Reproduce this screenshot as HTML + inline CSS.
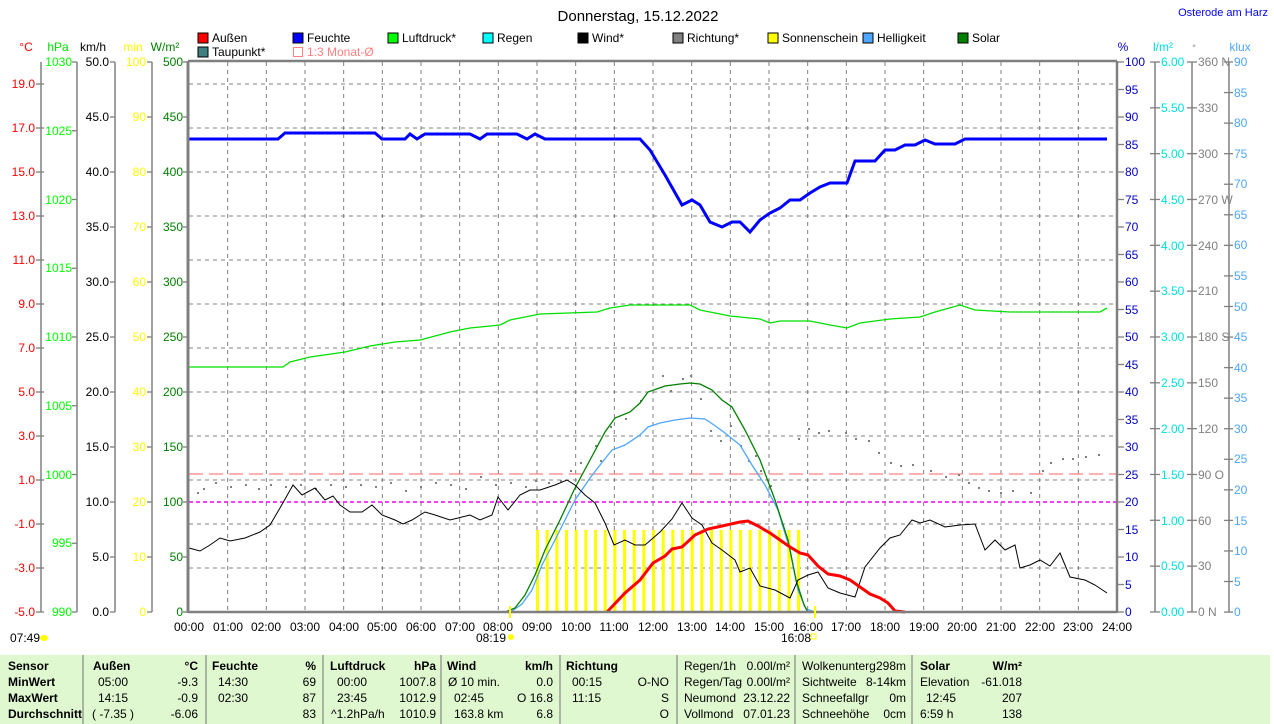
<!DOCTYPE html>
<html><head><meta charset="utf-8"><style>
body{margin:0;background:#fff;width:1274px;height:724px;overflow:hidden;font-family:"Liberation Sans",sans-serif}
svg{position:absolute;left:0;top:0}
text{font-family:"Liberation Sans",sans-serif;font-size:12px}
.tb{position:absolute;left:0;top:655px;width:1270px;height:69px;background:#e0f8d0}
</style></head><body>
<div class="tb"></div>
<svg width="1274" height="724" viewBox="0 0 1274 724" id="s">
<g id="grid" stroke="#808080" stroke-dasharray="4,4" stroke-width="1"></g>
<line x1="189" y1="474" x2="1117" y2="474" stroke="#ff8080" stroke-dasharray="14,6" stroke-width="1.2"/>
<line x1="189" y1="502" x2="1117" y2="502" stroke="#ff00ff" stroke-dasharray="4,3" stroke-width="1.5"/>
<g id="bars" fill="#ffff00"></g>
<g id="dots" fill="#808080"></g>
<polyline fill="none" stroke="#4da6ff" stroke-width="1.3" points="500,612 512,611 522,604 532,590 542,565 555,540 575,500 590,478 600,465 612,450 625,445 640,435 648,427 660,423 675,420 690,418 705,419 714,425 725,433 740,445 752,465 765,485 778,510 790,550 798,590 806,609 815,612 832,612"/>
<polyline fill="none" stroke="#008000" stroke-width="1.3" points="505,612 515,608 525,595 535,575 545,550 560,520 575,488 590,460 605,432 615,418 630,412 640,403 648,392 665,386 680,384 690,383 700,384 712,390 722,400 732,407 745,430 760,460 775,500 788,540 796,580 804,605 808,612"/>
<polyline fill="none" stroke="#0000ff" stroke-width="3" points="189,139 278,139 285,133 375,133 382,139 405,139 410,134 417,139 425,134 470,134 480,139 487,134 517,134 527,139 535,134 545,139 640,139 650,150 665,175 682,205 692,200 700,205 710,222 722,227 732,222 740,222 750,232 760,220 770,213 780,208 790,200 800,200 810,193 820,187 830,183 847,183 855,161 875,161 885,150 895,150 905,145 915,145 925,140 935,144 955,144 965,139 1107,139"/>
<polyline fill="none" stroke="#00e000" stroke-width="1.3" points="189,367 283,367 290,362 310,357 345,352 370,346 395,342 420,340 435,336 450,332 470,328 500,325 510,320 540,314 597,312 610,308 630,305 690,305 700,310 730,316 760,319 770,323 780,321 810,321 830,325 847,328 860,323 890,319 920,317 935,312 960,305 975,310 1010,312 1100,312 1107,308"/>
<polyline fill="none" stroke="#000" stroke-width="1" points="189,548 200,551 210,545 220,538 230,541 245,538 260,532 270,525 280,508 293,485 302,495 315,488 325,500 333,496 340,505 350,512 362,512 372,505 382,515 395,520 403,524 412,520 425,512 435,515 450,520 470,515 480,520 492,515 498,497 508,510 520,495 530,490 540,490 555,485 567,480 575,485 585,495 595,503 605,523 614,545 625,540 635,545 645,545 660,532 672,519 682,503 692,518 702,525 712,543 722,550 735,560 740,572 750,568 760,586 775,590 790,598 798,580 808,575 818,572 828,588 840,593 855,597 865,567 880,548 890,538 900,535 912,520 920,523 930,520 945,527 960,525 975,524 985,550 995,540 1005,550 1015,545 1020,568 1030,565 1040,560 1050,566 1060,553 1070,577 1085,580 1095,585 1107,593"/>
<polyline fill="none" stroke="#ff0000" stroke-width="3" points="607,612 625,593 640,580 653,563 665,556 672,549 682,547 695,535 708,529 722,526 740,522 748,521 758,526 770,533 780,540 790,547 800,553 808,555 818,566 828,574 840,576 850,580 860,587 870,594 880,598 888,603 895,611 905,612"/>
<line x1="188" y1="61" x2="1117" y2="61" stroke="#808080" stroke-width="2.5"/>
<line x1="188" y1="612" x2="1117" y2="612" stroke="#808080" stroke-width="2.5"/>
<line x1="188" y1="61" x2="188" y2="613" stroke="#808080" stroke-width="3"/>
<line x1="1117" y1="61" x2="1117" y2="613" stroke="#808080" stroke-width="2.5"/>
<g stroke="#808080" stroke-width="1.5">
<line x1="41" y1="62" x2="41" y2="612"/><line x1="77" y1="62" x2="77" y2="612"/><line x1="115" y1="62" x2="115" y2="612"/><line x1="152" y1="62" x2="152" y2="612"/>
<line x1="1155" y1="62" x2="1155" y2="612"/><line x1="1192" y1="62" x2="1192" y2="612"/><line x1="1229" y1="62" x2="1229" y2="612"/>
</g>
<g id="ticks" stroke="#808080" stroke-width="1.3"></g>
<text x="638" y="21" text-anchor="middle" style="font-size:15px">Donnerstag, 15.12.2022</text>
<text x="1268" y="16" text-anchor="end" fill="#0000ff" style="font-size:11px">Osterode am Harz</text>
<text x="26" y="51" text-anchor="middle" fill="#ff0000">°C</text>
<text x="58" y="51" text-anchor="middle" fill="#00e000">hPa</text>
<text x="93" y="51" text-anchor="middle">km/h</text>
<text x="133" y="51" text-anchor="middle" fill="#ffff00">min</text>
<text x="165" y="51" text-anchor="middle" fill="#008000">W/m²</text>
<text x="1123" y="51" text-anchor="middle" fill="#0000c0">%</text>
<text x="1163" y="51" text-anchor="middle" fill="#00e0e0">l/m²</text>
<text x="1194" y="51" text-anchor="middle" fill="#808080" style="font-size:9px">°</text>
<text x="1240" y="51" text-anchor="middle" fill="#4da6ff">klux</text>
<g stroke="#000" stroke-width="1">
<rect x="198" y="33" width="10" height="10" fill="#ff0000"/><rect x="293" y="33" width="10" height="10" fill="#0000ff"/><rect x="388" y="33" width="10" height="10" fill="#00ff00"/><rect x="483" y="33" width="10" height="10" fill="#00ffff"/><rect x="578" y="33" width="10" height="10" fill="#000"/><rect x="673" y="33" width="10" height="10" fill="#808080"/><rect x="768" y="33" width="10" height="10" fill="#ffff00"/><rect x="863" y="33" width="10" height="10" fill="#4da6ff"/><rect x="958" y="33" width="10" height="10" fill="#008000"/>
<rect x="198" y="47" width="10" height="10" fill="#408080"/>
</g>
<rect x="293.5" y="47.5" width="9" height="9" fill="none" stroke="#ff8080"/>
<g>
<text x="212" y="42">Außen</text><text x="307" y="42">Feuchte</text><text x="402" y="42">Luftdruck*</text><text x="497" y="42">Regen</text><text x="592" y="42">Wind*</text><text x="687" y="42">Richtung*</text><text x="782" y="42">Sonnenschein</text><text x="877" y="42">Helligkeit</text><text x="972" y="42">Solar</text>
<text x="212" y="56">Taupunkt*</text><text x="307" y="56" fill="#ff8080">1:3 Monat-Ø</text>
</g>
<g style="font-size:11.5px">
<g fill="#ff0000" text-anchor="end">
<text x="35" y="88">19.0</text><text x="35" y="132">17.0</text><text x="35" y="176">15.0</text><text x="35" y="220">13.0</text><text x="35" y="264">11.0</text><text x="35" y="308">9.0</text><text x="35" y="352">7.0</text><text x="35" y="396">5.0</text><text x="35" y="440">3.0</text><text x="35" y="484">1.0</text><text x="35" y="528">-1.0</text><text x="35" y="572">-3.0</text><text x="35" y="616">-5.0</text>
</g>
<g fill="#00ff00" text-anchor="end">
<text x="72" y="66">1030</text><text x="72" y="135">1025</text><text x="72" y="204">1020</text><text x="72" y="272">1015</text><text x="72" y="341">1010</text><text x="72" y="410">1005</text><text x="72" y="479">1000</text><text x="72" y="547">995</text><text x="72" y="616">990</text>
</g>
<g fill="#000" text-anchor="end">
<text x="109" y="66">50.0</text><text x="109" y="121">45.0</text><text x="109" y="176">40.0</text><text x="109" y="231">35.0</text><text x="109" y="286">30.0</text><text x="109" y="341">25.0</text><text x="109" y="396">20.0</text><text x="109" y="451">15.0</text><text x="109" y="506">10.0</text><text x="109" y="561">5.0</text><text x="109" y="616">0.0</text>
</g>
<g fill="#ffff00" text-anchor="end">
<text x="146" y="66">100</text><text x="146" y="121">90</text><text x="146" y="176">80</text><text x="146" y="231">70</text><text x="146" y="286">60</text><text x="146" y="341">50</text><text x="146" y="396">40</text><text x="146" y="451">30</text><text x="146" y="506">20</text><text x="146" y="561">10</text><text x="146" y="616">0</text>
</g>
<g fill="#008000" text-anchor="end">
<text x="183" y="66">500</text><text x="183" y="121">450</text><text x="183" y="176">400</text><text x="183" y="231">350</text><text x="183" y="286">300</text><text x="183" y="341">250</text><text x="183" y="396">200</text><text x="183" y="451">150</text><text x="183" y="506">100</text><text x="183" y="561">50</text><text x="183" y="616">0</text>
</g>
<g fill="#0000c0">
<text x="1125" y="66">100</text><text x="1125" y="94">95</text><text x="1125" y="121">90</text><text x="1125" y="149">85</text><text x="1125" y="176">80</text><text x="1125" y="204">75</text><text x="1125" y="231">70</text><text x="1125" y="259">65</text><text x="1125" y="286">60</text><text x="1125" y="314">55</text><text x="1125" y="341">50</text><text x="1125" y="369">45</text><text x="1125" y="396">40</text><text x="1125" y="424">35</text><text x="1125" y="451">30</text><text x="1125" y="479">25</text><text x="1125" y="506">20</text><text x="1125" y="534">15</text><text x="1125" y="561">10</text><text x="1125" y="589">5</text><text x="1125" y="616">0</text>
</g>
<g fill="#00e0e0">
<text x="1161" y="66">6.00</text><text x="1161" y="112">5.50</text><text x="1161" y="158">5.00</text><text x="1161" y="204">4.50</text><text x="1161" y="250">4.00</text><text x="1161" y="295">3.50</text><text x="1161" y="341">3.00</text><text x="1161" y="387">2.50</text><text x="1161" y="433">2.00</text><text x="1161" y="479">1.50</text><text x="1161" y="525">1.00</text><text x="1161" y="570">0.50</text><text x="1161" y="616">0.00</text>
</g>
<g fill="#808080">
<text x="1198" y="66">360 N</text><text x="1198" y="112">330</text><text x="1198" y="158">300</text><text x="1198" y="204">270 W</text><text x="1198" y="250">240</text><text x="1198" y="295">210</text><text x="1198" y="341">180 S</text><text x="1198" y="387">150</text><text x="1198" y="433">120</text><text x="1198" y="479">90 O</text><text x="1198" y="525">60</text><text x="1198" y="570">30</text><text x="1198" y="616">0 N</text>
</g>
<g fill="#4da6ff">
<text x="1234" y="66">90</text><text x="1234" y="97">85</text><text x="1234" y="127">80</text><text x="1234" y="158">75</text><text x="1234" y="188">70</text><text x="1234" y="219">65</text><text x="1234" y="249">60</text><text x="1234" y="280">55</text><text x="1234" y="311">50</text><text x="1234" y="341">45</text><text x="1234" y="372">40</text><text x="1234" y="402">35</text><text x="1234" y="433">30</text><text x="1234" y="463">25</text><text x="1234" y="494">20</text><text x="1234" y="525">15</text><text x="1234" y="555">10</text><text x="1234" y="586">5</text><text x="1234" y="616">0</text>
</g>
</g>
<g text-anchor="middle">
<text x="189" y="631">00:00</text><text x="228" y="631">01:00</text><text x="266" y="631">02:00</text><text x="305" y="631">03:00</text><text x="344" y="631">04:00</text><text x="382" y="631">05:00</text><text x="421" y="631">06:00</text><text x="460" y="631">07:00</text><text x="498" y="631">08:00</text><text x="537" y="631">09:00</text><text x="576" y="631">10:00</text><text x="614" y="631">11:00</text><text x="653" y="631">12:00</text><text x="692" y="631">13:00</text><text x="730" y="631">14:00</text><text x="769" y="631">15:00</text><text x="808" y="631">16:00</text><text x="846" y="631">17:00</text><text x="885" y="631">18:00</text><text x="924" y="631">19:00</text><text x="962" y="631">20:00</text><text x="1001" y="631">21:00</text><text x="1040" y="631">22:00</text><text x="1078" y="631">23:00</text><text x="1117" y="631">24:00</text>
</g>
<text x="10" y="642">07:49</text><ellipse cx="44" cy="638" rx="4" ry="3" fill="#ffff00"/>
<text x="476" y="642">08:19</text><circle cx="511" cy="637" r="3" fill="#ffff00"/>
<text x="781" y="642">16:08</text><rect x="811" y="634" width="5" height="5" fill="none" stroke="#ffff00"/>
<line x1="510" y1="606" x2="510" y2="618" stroke="#ffff00" stroke-width="2"/>
<line x1="815" y1="606" x2="815" y2="618" stroke="#ffff00" stroke-width="2"/>
<g stroke="#909090" stroke-width="1.3">
<line x1="83" y1="655" x2="83" y2="724"/><line x1="206" y1="655" x2="206" y2="724"/><line x1="323" y1="655" x2="323" y2="724"/><line x1="441" y1="655" x2="441" y2="724"/><line x1="560" y1="655" x2="560" y2="724"/><line x1="677" y1="655" x2="677" y2="724"/><line x1="795" y1="655" x2="795" y2="724"/><line x1="912" y1="655" x2="912" y2="724"/>
</g>
<g style="font-size:11px">
<g font-weight="bold"><text x="8" y="670">Sensor</text><text x="8" y="686">MinWert</text><text x="8" y="702">MaxWert</text><text x="8" y="718">Durchschnitt</text>
<text x="93" y="670">Außen</text><text x="198" y="670" text-anchor="end">°C</text>
<text x="212" y="670">Feuchte</text><text x="316" y="670" text-anchor="end">%</text>
<text x="330" y="670">Luftdruck</text><text x="436" y="670" text-anchor="end">hPa</text>
<text x="447" y="670">Wind</text><text x="553" y="670" text-anchor="end">km/h</text>
<text x="566" y="670">Richtung</text>
<text x="920" y="670">Solar</text><text x="1022" y="670" text-anchor="end">W/m²</text></g>
<text x="98" y="686">05:00</text><text x="98" y="702">14:15</text><text x="92" y="718">( -7.35 )</text>
<g text-anchor="end"><text x="198" y="686">-9.3</text><text x="198" y="702">-0.9</text><text x="198" y="718">-6.06</text></g>
<text x="218" y="686">14:30</text><text x="218" y="702">02:30</text>
<g text-anchor="end"><text x="316" y="686">69</text><text x="316" y="702">87</text><text x="316" y="718">83</text></g>
<text x="337" y="686">00:00</text><text x="337" y="702">23:45</text><text x="331" y="718">^1.2hPa/h</text>
<g text-anchor="end"><text x="436" y="686">1007.8</text><text x="436" y="702">1012.9</text><text x="436" y="718">1010.9</text></g>
<text x="448" y="686">Ø 10 min.</text><text x="454" y="702">02:45</text><text x="454" y="718">163.8 km</text>
<g text-anchor="end"><text x="553" y="686">0.0</text><text x="553" y="702">O 16.8</text><text x="553" y="718">6.8</text></g>
<text x="572" y="686">00:15</text><text x="572" y="702">11:15</text>
<g text-anchor="end"><text x="669" y="686">O-NO</text><text x="669" y="702">S</text><text x="669" y="718">O</text></g>
<text x="684" y="670">Regen/1h</text><text x="684" y="686">Regen/Tag</text><text x="684" y="702">Neumond</text><text x="684" y="718">Vollmond</text>
<g text-anchor="end"><text x="790" y="670">0.00l/m²</text><text x="790" y="686">0.00l/m²</text><text x="790" y="702">23.12.22</text><text x="790" y="718">07.01.23</text></g>
<text x="802" y="670">Wolkenunterg</text><text x="802" y="686">Sichtweite</text><text x="802" y="702">Schneefallgr</text><text x="802" y="718">Schneehöhe</text>
<g text-anchor="end"><text x="906" y="670">298m</text><text x="906" y="686">8-14km</text><text x="906" y="702">0m</text><text x="906" y="718">0cm</text></g>
<text x="920" y="686">Elevation</text><text x="926" y="702">12:45</text><text x="920" y="718">6:59 h</text>
<g text-anchor="end"><text x="1022" y="686">-61.018</text><text x="1022" y="702">207</text><text x="1022" y="718">138</text></g>
</g>
</svg>
<script>
var NS="http://www.w3.org/2000/svg";
function el(p,t,a){var e=document.createElementNS(NS,t);for(var k in a)e.setAttribute(k,a[k]);document.getElementById(p).appendChild(e);}
for(var h=1;h<24;h++){var x=189+h*38.667;el("grid","line",{x1:x,y1:62,x2:x,y2:612});}
for(var y=84;y<612;y+=44)el("grid","line",{x1:189,y1:y,x2:1117,y2:y});
for(var i=0;i<28;i++){el("bars","rect",{x:536+i*9.67,y:530,width:3,height:82});}
function tk(x1,x2,y0,y1,st){for(var y=y0;y<=y1+0.1;y+=st)el("ticks","line",{x1:x1,y1:y,x2:x2,y2:y});}
tk(36,44,84,612,44);tk(72,77,62,612,68.75);tk(110,115,62,612,55);tk(147,152,62,612,55);tk(183,188,62,612,55);
tk(1117,1124,62,612,27.5);tk(1150,1160,62,612,45.83);tk(1187,1197,62,612,45.83);tk(1224,1233,62,612,30.56);
var d=[[197,492],[203,488],[215,482],[230,486],[245,484],[258,488],[270,484],[285,486],[300,484],[315,488],[330,484],[345,486],[360,484],[375,486],[390,482],[405,490],[420,486],[435,482],[450,484],[465,488],[480,476],[495,484],[510,482],[525,486],[535,480],[548,482],[560,480],[570,470],[580,462],[595,445],[600,460],[610,426],[625,418],[640,400],[662,375],[670,390],[682,378],[690,375],[700,398],[710,430],[720,440],[730,425],[740,445],[748,460],[755,455],[760,470],[770,485],[798,438],[808,428],[818,432],[828,430],[845,432],[855,438],[868,440],[878,452],[890,462],[900,465],[912,464],[930,470],[945,476],[958,474],[968,482],[978,487],[988,490],[1000,492],[1012,490],[1030,492],[1042,470],[1050,462],[1062,458],[1072,458],[1085,456],[1098,454]];
d.forEach(function(p){el("dots","rect",{x:p[0],y:p[1],width:2,height:2});});
</script>
</body></html>
